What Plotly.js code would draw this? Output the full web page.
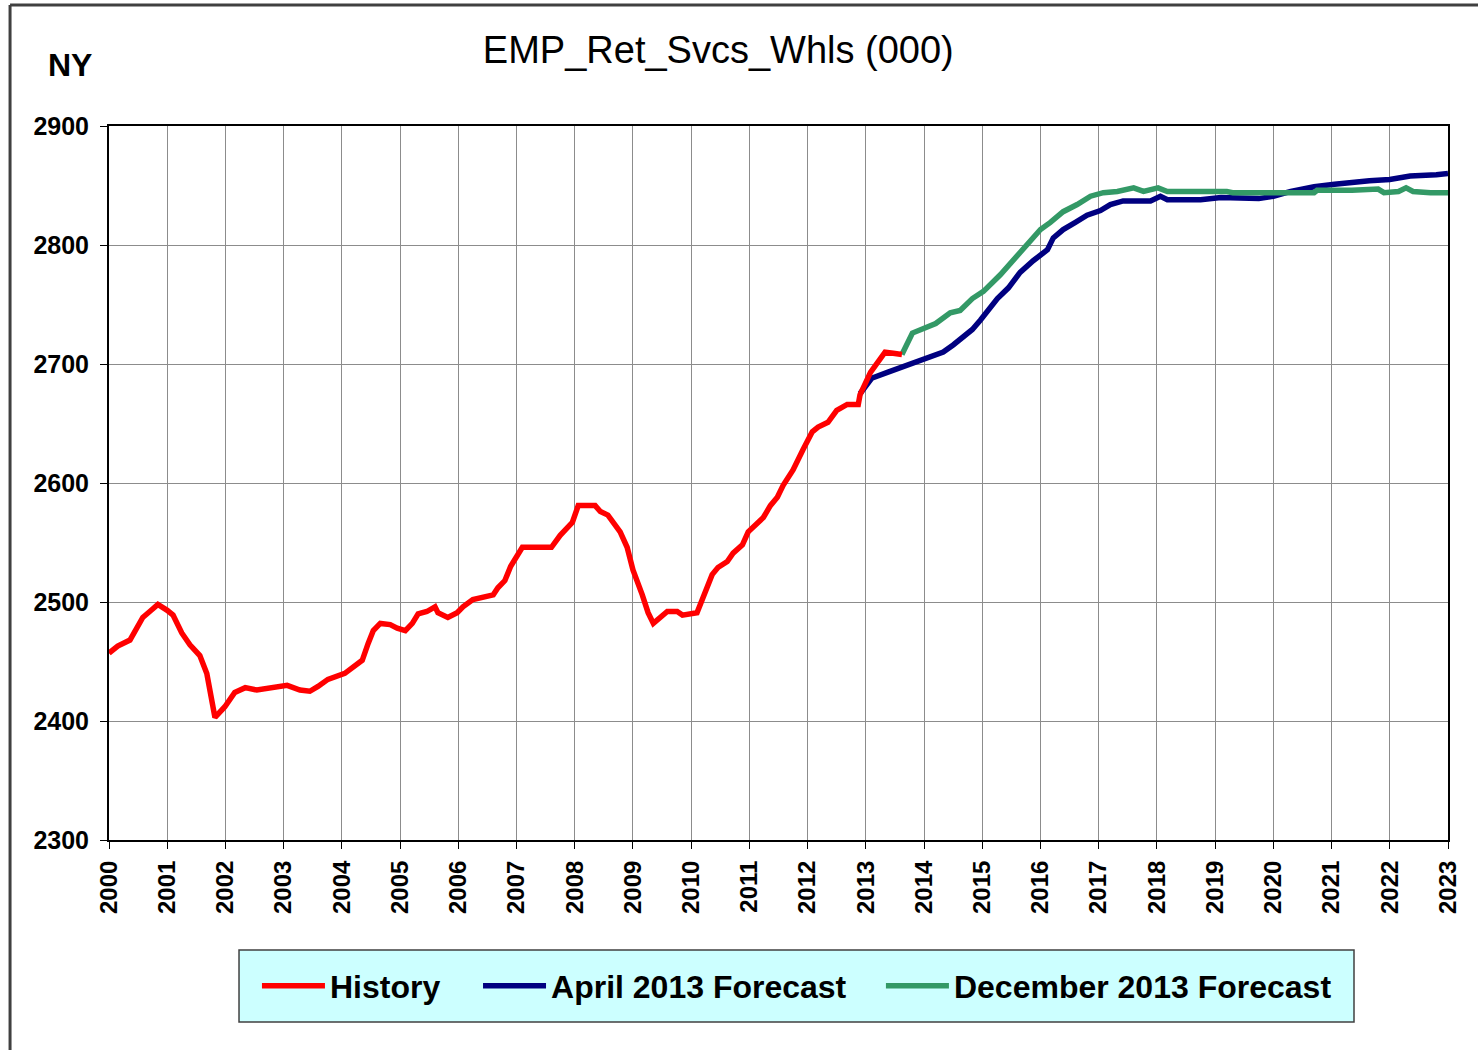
<!DOCTYPE html>
<html>
<head>
<meta charset="utf-8">
<script src="https://cdn.plot.ly/plotly-3.0.1.min.js"></script>
<style>
  html, body { margin: 0; padding: 0; background: #fff; }
  #chart { width: 1478px; height: 1050px; }
</style>
</head>
<body>
<div id="chart"></div>
<script>
// values, x as decimal year
var histX = [2000.0, 2000.15, 2000.36, 2000.45, 2000.58, 2000.7, 2000.84, 2001.0, 2001.1, 2001.25,
  2001.39, 2001.56, 2001.68, 2001.82, 2001.99, 2002.16, 2002.34, 2002.54, 2002.77, 2003.06,
  2003.28, 2003.45, 2003.59, 2003.76, 2004.05, 2004.18, 2004.35, 2004.45, 2004.54, 2004.66,
  2004.83, 2004.95, 2005.09, 2005.21, 2005.31, 2005.46, 2005.6, 2005.65, 2005.82, 2005.98,
  2006.08, 2006.25, 2006.43, 2006.6, 2006.68, 2006.8, 2006.9, 2007.0, 2007.1, 2007.6,
  2007.75, 2007.96, 2008.06, 2008.35, 2008.44, 2008.57, 2008.78, 2008.9, 2009.0, 2009.16,
  2009.26, 2009.35, 2009.47, 2009.59, 2009.76, 2009.85, 2010.1, 2010.2, 2010.36, 2010.46,
  2010.62, 2010.72, 2010.88, 2010.98, 2011.13, 2011.24, 2011.36, 2011.48, 2011.58, 2011.75,
  2011.92, 2012.08, 2012.18, 2012.35, 2012.5, 2012.68, 2012.87, 2012.9, 2013.08, 2013.22,
  2013.33, 2013.47, 2013.62];
var histY = [2457, 2463, 2468, 2476, 2487, 2492, 2498, 2493, 2489, 2474,
  2464, 2455, 2440, 2403, 2412, 2424, 2428, 2426, 2428, 2430,
  2426, 2425, 2429, 2435, 2440, 2445, 2451, 2465, 2476, 2482,
  2481, 2478, 2476, 2482, 2490, 2492, 2496, 2491, 2487, 2491,
  2496, 2502, 2504, 2506, 2512, 2518, 2530, 2538, 2546, 2546,
  2556, 2567, 2581, 2581, 2576, 2573, 2559, 2546, 2527, 2506,
  2491, 2482, 2487, 2492, 2492, 2489, 2491, 2504, 2523, 2529,
  2534, 2541, 2548, 2559, 2566, 2571, 2581, 2588, 2598, 2611,
  2628, 2643, 2647, 2651, 2661, 2666, 2666, 2674, 2693, 2703,
  2710, 2709, 2708];

var aprX = [2012.9, 2013.1, 2013.37, 2013.59, 2013.81, 2014.05, 2014.33, 2014.5, 2014.67, 2014.83,
  2014.97, 2015.26, 2015.45, 2015.65, 2015.88, 2016.12, 2016.22, 2016.39, 2016.6, 2016.8,
  2017.03, 2017.2, 2017.42, 2017.89, 2018.06, 2018.18, 2018.75, 2019.0, 2019.1, 2019.75,
  2020.0, 2020.3, 2020.7, 2021.05, 2021.35, 2021.65, 2022.0, 2022.35, 2022.8, 2022.9, 2023.0];
var aprY = [2675, 2688, 2693, 2697, 2700, 2705, 2710, 2716, 2722, 2729,
  2737, 2755, 2764, 2777, 2787, 2796, 2806, 2813, 2819, 2825,
  2829, 2834, 2837, 2837, 2841, 2838, 2838, 2839, 2840, 2839,
  2841, 2845, 2849, 2851, 2853, 2854, 2855, 2858, 2859, 2860, 2860];

var decX = [2013.62, 2013.8, 2013.95, 2014.2, 2014.45, 2014.62, 2014.83, 2015.02, 2015.31, 2015.53,
  2015.82, 2016.0, 2016.17, 2016.39, 2016.63, 2016.86, 2017.08, 2017.32, 2017.6, 2017.77,
  2018.02, 2018.18, 2019.2, 2019.3, 2020.7, 2020.75, 2021.35, 2021.8, 2021.9, 2022.15,
  2022.28, 2022.4, 2022.7, 2023.0];
var decY = [2708, 2726, 2729, 2734, 2743, 2745, 2755, 2761, 2775, 2787,
  2804, 2813, 2819, 2828, 2834, 2841, 2844, 2845, 2848, 2845,
  2848, 2845, 2845, 2844, 2844, 2846, 2846, 2847, 2844, 2845,
  2848, 2845, 2844, 2844];

var seriesNames = ['History', 'April 2013 Forecast', 'December 2013 Forecast'];
var seriesColors = ['#ff0000', '#000080', '#339966'];
var yearTicks = [];
for (var yr = 2000; yr <= 2023; yr++) yearTicks.push(yr);

var FONT = 'Arial, "Liberation Sans", sans-serif';
var legendIds = ['legend', 'legend2', 'legend3'];
var legendX = [0.1105, 0.2756, 0.5765];   // one legend box per entry, spaced like the original

var plotdata = [
  { x: histX, y: histY },
  { x: aprX, y: aprY },
  { x: decX, y: decY }
].map(function (d, i) {
  return {
    type: 'scatter',
    mode: 'lines',
    name: seriesNames[i],
    legend: legendIds[i],
    x: d.x,
    y: d.y,
    line: { color: seriesColors[i], width: 5.5 }
  };
});
// draw history on top
plotdata = [plotdata[1], plotdata[2], plotdata[0]];

var layout = {
  width: 1478,
  height: 1050,
  margin: { l: 109, r: 30, t: 126, b: 210 },
  paper_bgcolor: '#ffffff',
  plot_bgcolor: '#ffffff',
  font: { family: FONT, color: '#000000' },
  title: {
    text: 'EMP_Ret_Svcs_Whls (000)',
    font: { family: FONT, size: 38, color: '#000000' },
    xref: 'container', x: 0.486, xanchor: 'center',
    yref: 'container', y: 0.953, yanchor: 'middle'
  },
  xaxis: {
    range: [2000, 2023],
    tickvals: yearTicks,
    ticktext: yearTicks.map(String),
    tickangle: -90,
    tickfont: { family: FONT, size: 24, weight: 'bold' },
    ticks: 'outside', ticklen: 7, tickcolor: '#000000', tickwidth: 1,
    ticklabelstandoff: 2,
    showgrid: true, gridcolor: '#8c8c8c', gridwidth: 1,
    showline: true, mirror: true, linecolor: '#000000', linewidth: 2,
    zeroline: false, fixedrange: true
  },
  yaxis: {
    range: [2300, 2900],
    dtick: 100,
    tickfont: { family: FONT, size: 25, weight: 'bold' },
    ticks: 'outside', ticklen: 7, tickcolor: '#000000', tickwidth: 1,
    ticklabelstandoff: 6,
    showgrid: true, gridcolor: '#8c8c8c', gridwidth: 1,
    showline: true, mirror: true, linecolor: '#000000', linewidth: 2,
    zeroline: false, fixedrange: true
  },
  showlegend: true,
  shapes: [
    // legend box
    { type: 'rect', xref: 'paper', yref: 'paper', x0: 0.0971, x1: 0.9298, y0: -0.2549, y1: -0.1541,
      fillcolor: '#ccffff', line: { color: '#404040', width: 1.5 }, layer: 'below' },
    // outer frame
    { type: 'line', xref: 'paper', yref: 'paper', x0: -0.0739, x1: -0.0739, y0: -0.3, y1: 1.1695,
      line: { color: '#404040', width: 3 } },
    { type: 'line', xref: 'paper', yref: 'paper', x0: -0.0739, x1: 1.03, y0: 1.1695, y1: 1.1695,
      line: { color: '#404040', width: 3 } }
  ],
  annotations: [
    { text: 'NY', xref: 'paper', yref: 'paper', x: -0.029, y: 1.0854, xanchor: 'center', yanchor: 'middle',
      showarrow: false, font: { family: FONT, size: 32, weight: 'bold', color: '#000000' } }
  ]
};

legendIds.forEach(function (id, i) {
  layout[id] = {
    orientation: 'h',
    x: legendX[i], xanchor: 'left',
    y: -0.2045, yanchor: 'middle',
    bgcolor: 'rgba(0,0,0,0)',
    borderwidth: 0,
    itemwidth: 63,
    font: { family: FONT, size: 32, weight: 'bold', color: '#000000' }
  };
});

Plotly.newPlot('chart', plotdata, layout, { displayModeBar: false, staticPlot: true });
</script>
</body>
</html>
